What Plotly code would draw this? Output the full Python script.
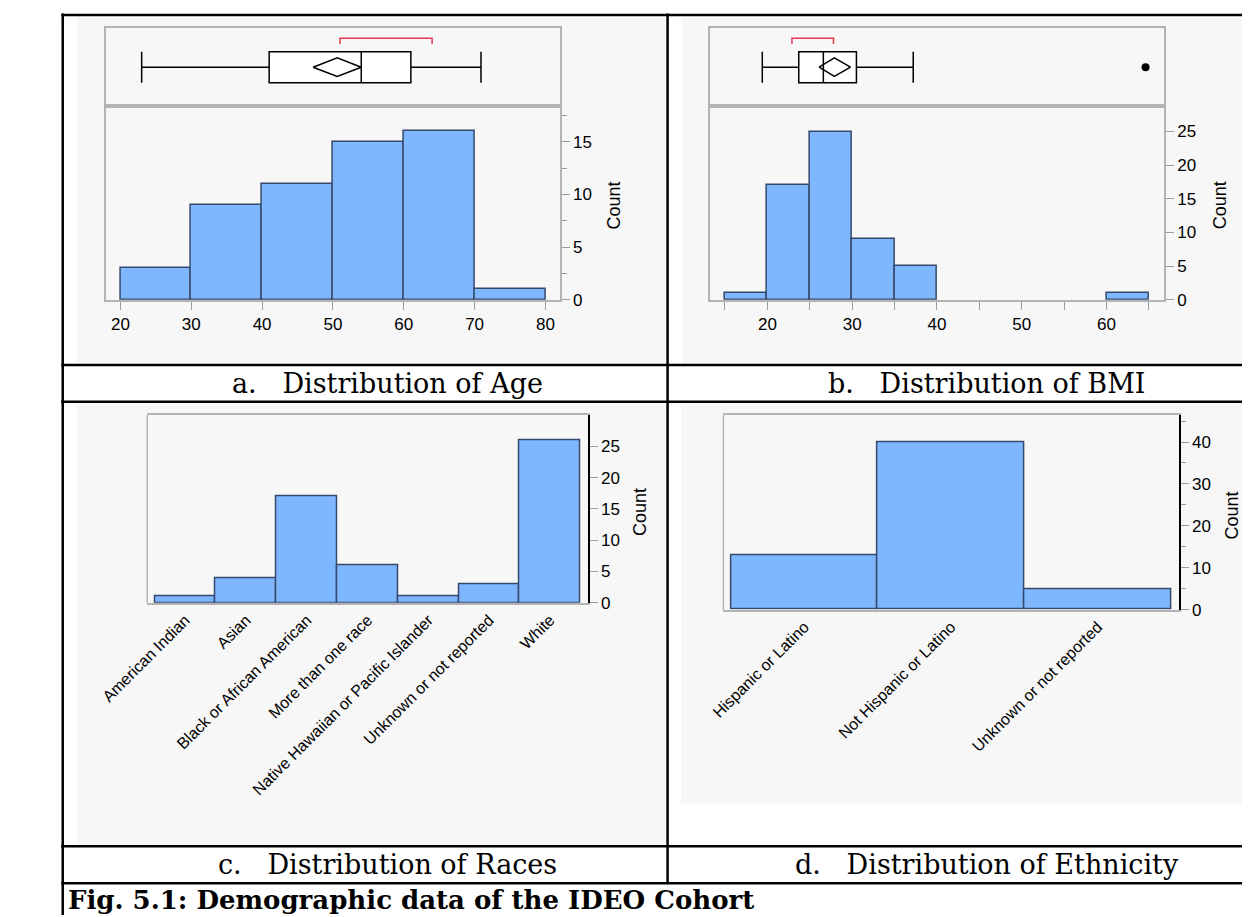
import plotly.graph_objects as go

W, H = 1250, 917

# ---------------- data ----------------
age_bin_edges = [20, 30, 40, 50, 60, 70, 80]
age_counts = [3, 9, 11, 15, 16, 1]
age_quartiles = [23.0, 41.0, 54.0, 61.0, 70.9]      # whisker lo, q1, median, q3, whisker hi
age_mean_ci = [47.2, 50.6, 54.0]                    # ci lo, mean, ci hi
age_shortest_half = [51.0, 64.0]
age_count_ticks = [0, 5, 10, 15]

bmi_bin_left = [15, 20, 25, 30, 35, 60]
bmi_bin_width = 5
bmi_counts = [1, 17, 25, 9, 5, 1]
bmi_quartiles = [19.4, 23.7, 26.6, 30.5, 37.2]
bmi_mean_ci = [26.1, 27.9, 29.8]
bmi_shortest_half = [22.9, 27.8]
bmi_outliers = [64.6]
bmi_ticks = [20, 30, 40, 50, 60]
bmi_count_ticks = [0, 5, 10, 15, 20, 25]

race_categories = ["American Indian", "Asian", "Black or African American",
                   "More than one race", "Native Hawaiian or Pacific Islander",
                   "Unknown or not reported", "White"]
race_counts = [1, 4, 17, 6, 1, 3, 26]
race_count_ticks = [0, 5, 10, 15, 20, 25]

ethnicity_categories = ["Hispanic or Latino", "Not Hispanic or Latino",
                        "Unknown or not reported"]
ethnicity_counts = [13, 40, 5]
ethnicity_count_ticks = [0, 10, 20, 30, 40]

captions = ["a.   Distribution of Age", "b.   Distribution of BMI",
            "c.   Distribution of Races", "d.   Distribution of Ethnicity"]
fig_title = "Fig. 5.1: Demographic data of the IDEO Cohort"

# ---------------- styles ----------------
BAR_FILL = "#7eb7fd"
BAR_EDGE = "#34496b"
FRAME = "#b3b3b3"
TICKC = "#9a9a9a"
SANS = "Liberation Sans, Arial, sans-serif"
SERIF = "DejaVu Serif, Georgia, serif"
PANEL_BG = "#f7f7f7"


def dx(a, b):
    return [a / W, b / W]


def dy(top, bottom):
    return [1 - bottom / H, 1 - top / H]


fig = go.Figure()

# ---------- panel a ----------
age_centers = [(a + b) / 2 for a, b in zip(age_bin_edges[:-1], age_bin_edges[1:])]
age_widths = [b - a for a, b in zip(age_bin_edges[:-1], age_bin_edges[1:])]
fig.add_trace(go.Bar(x=age_centers, y=age_counts, width=age_widths,
                     marker=dict(color=BAR_FILL, line=dict(color=BAR_EDGE, width=1.5)),
                     xaxis="x2", yaxis="y2"))
fig.add_trace(go.Box(y=[0.5], lowerfence=[age_quartiles[0]], q1=[age_quartiles[1]],
                     median=[age_quartiles[2]], q3=[age_quartiles[3]],
                     upperfence=[age_quartiles[4]], orientation="h", width=0.4,
                     whiskerwidth=1, fillcolor="white", boxpoints=False,
                     line=dict(color="black", width=1.5), xaxis="x", yaxis="y"))
dh = 0.12
fig.add_trace(go.Scatter(x=[age_mean_ci[0], age_mean_ci[1], age_mean_ci[2], age_mean_ci[1], age_mean_ci[0]],
                         y=[0.5, 0.5 + dh, 0.5, 0.5 - dh, 0.5], mode="lines",
                         line=dict(color="black", width=1.5), xaxis="x", yaxis="y"))
fig.add_trace(go.Scatter(x=[age_shortest_half[0], age_shortest_half[0], age_shortest_half[1], age_shortest_half[1]],
                         y=[0.80, 0.875, 0.875, 0.80], mode="lines",
                         line=dict(color="#e8384f", width=1.5), xaxis="x", yaxis="y"))

# ---------- panel b ----------
bmi_centers = [l + bmi_bin_width / 2 for l in bmi_bin_left]
fig.add_trace(go.Bar(x=bmi_centers, y=bmi_counts, width=[bmi_bin_width] * len(bmi_counts),
                     marker=dict(color=BAR_FILL, line=dict(color=BAR_EDGE, width=1.5)),
                     xaxis="x4", yaxis="y4"))
fig.add_trace(go.Box(y=[0.5], lowerfence=[bmi_quartiles[0]], q1=[bmi_quartiles[1]],
                     median=[bmi_quartiles[2]], q3=[bmi_quartiles[3]],
                     upperfence=[bmi_quartiles[4]], orientation="h", width=0.4,
                     whiskerwidth=1, fillcolor="white", boxpoints=False,
                     line=dict(color="black", width=1.5), xaxis="x3", yaxis="y3"))
fig.add_trace(go.Scatter(x=[bmi_mean_ci[0], bmi_mean_ci[1], bmi_mean_ci[2], bmi_mean_ci[1], bmi_mean_ci[0]],
                         y=[0.5, 0.5 + dh, 0.5, 0.5 - dh, 0.5], mode="lines",
                         line=dict(color="black", width=1.5), xaxis="x3", yaxis="y3"))
fig.add_trace(go.Scatter(x=[bmi_shortest_half[0], bmi_shortest_half[0], bmi_shortest_half[1], bmi_shortest_half[1]],
                         y=[0.80, 0.875, 0.875, 0.80], mode="lines",
                         line=dict(color="#e8384f", width=1.5), xaxis="x3", yaxis="y3"))
fig.add_trace(go.Scatter(x=bmi_outliers, y=[0.5] * len(bmi_outliers), mode="markers",
                         marker=dict(color="black", size=8), xaxis="x3", yaxis="y3"))

# ---------- panel c ----------
fig.add_trace(go.Bar(x=race_categories, y=race_counts, width=1,
                     marker=dict(color=BAR_FILL, line=dict(color=BAR_EDGE, width=1.5)),
                     xaxis="x5", yaxis="y5"))

# ---------- panel d ----------
fig.add_trace(go.Bar(x=ethnicity_categories, y=ethnicity_counts, width=1,
                     marker=dict(color=BAR_FILL, line=dict(color=BAR_EDGE, width=1.5)),
                     xaxis="x6", yaxis="y6"))

tickfont = dict(family=SANS, size=17, color="black")
catfont = dict(family=SANS, size=16, color="black")

box_x_common = dict(showticklabels=False, ticks="", showline=True, linecolor=FRAME,
                    linewidth=1.5, mirror=True, showgrid=False, zeroline=False)
box_y_common = dict(range=[0, 1], showticklabels=False, ticks="", showline=True,
                    linecolor=FRAME, linewidth=1.5, mirror=True, showgrid=False,
                    zeroline=False)
hist_x_common = dict(showline=True, linecolor=FRAME, linewidth=1.5, mirror=True,
                     ticks="outside", ticklen=8, tickcolor=TICKC, tickwidth=1,
                     showgrid=False, zeroline=False, tickfont=tickfont)
hist_y_common = dict(side="right", showline=True, linecolor=FRAME, linewidth=1.5,
                     mirror=True, ticks="outside", ticklen=8, tickcolor=TICKC,
                     tickwidth=1, showgrid=False, zeroline=False, tickfont=tickfont)
cat_x_common = dict(type="category", tickangle=-45, ticks="", showline=True,
                    linecolor=FRAME, linewidth=1.5, mirror=True, showgrid=False,
                    zeroline=False, tickfont=catfont)
cat_y_common = dict(side="right", showline=True, linecolor="black", linewidth=1.5,
                    mirror=False, ticks="outside", ticklen=8, tickcolor=TICKC,
                    showgrid=False, zeroline=False, tickfont=tickfont, tickmode="array")

a_x = dx(51.8, 524.1)
b_x = dx(680, 1152.3)
age_range = [17.94, 82.05]
bmi_range = [13.22, 66.78]

fig.update_layout(
    xaxis=dict(domain=a_x, range=age_range, anchor="y", **box_x_common),
    yaxis=dict(domain=dy(20.7, 99), anchor="x", **box_y_common),
    xaxis2=dict(domain=a_x, range=age_range, anchor="y2", tickmode="array",
                tickvals=age_bin_edges, **hist_x_common),
    yaxis2=dict(domain=dy(99, 295), range=[0, 18.4], anchor="x2", tickmode="array",
                tickvals=age_count_ticks,
                minor=dict(ticks="outside", dtick=2.5, tick0=0, ticklen=5, tickcolor=TICKC),
                **hist_y_common),
    xaxis3=dict(domain=b_x, range=bmi_range, anchor="y3", **box_x_common),
    yaxis3=dict(domain=dy(20.7, 99), anchor="x3", **box_y_common),
    xaxis4=dict(domain=b_x, range=bmi_range, anchor="y4", tickmode="array",
                tickvals=bmi_ticks,
                minor=dict(ticks="outside", dtick=5, tick0=0, ticklen=8, tickcolor=TICKC),
                **hist_x_common),
    yaxis4=dict(domain=dy(99, 295), range=[0, 28.8], anchor="x4", tickmode="array",
                tickvals=bmi_count_ticks, **hist_y_common),
    xaxis5=dict(domain=dx(94.9, 553.2), range=[-0.625, 6.625], anchor="y5",
                **cat_x_common),
    yaxis5=dict(domain=dy(411.7, 601.3), range=[0, 30], anchor="x5",
                tickvals=race_count_ticks, **cat_y_common),
    xaxis6=dict(domain=dx(694, 1167.8), range=[-0.552, 2.554], anchor="y6",
                **cat_x_common),
    yaxis6=dict(domain=dy(411.7, 608.3), range=[0, 46.4], anchor="x6",
                tickvals=ethnicity_count_ticks,
                minor=dict(ticks="outside", dtick=5, tick0=0, ticklen=5, tickcolor=TICKC),
                **cat_y_common),
)

shapes = []
# grey panel backgrounds
for x0, y0, x1, y1 in [(22, 9, 634, 359.5), (651, 9, 1250, 359.5),
                       (22, 400, 634, 846), (650, 400, 1250, 804)]:
    shapes.append(dict(type="rect", xref="paper", yref="paper", x0=x0 / W, x1=x1 / W,
                       y0=1 - y1 / H, y1=1 - y0 / H, fillcolor=PANEL_BG,
                       line=dict(width=0), layer="below"))
# grey left edges of the categorical frames
for ax in ["x5", "x6"]:
    yax = "y" + ax[1:]
    shapes.append(dict(type="line", xref=ax + " domain", yref=yax + " domain",
                       x0=0, x1=0, y0=0, y1=1, line=dict(color=FRAME, width=1.5)))
# table borders
BL = dict(color="black", width=2.5)
for yy in [7, 361, 398, 847.5, 885]:
    shapes.append(dict(type="line", xref="paper", yref="paper", x0=5.5 / W, x1=1,
                       y0=1 - yy / H, y1=1 - yy / H, line=BL))
shapes.append(dict(type="line", xref="paper", yref="paper", x0=7 / W, x1=7 / W,
                   y0=0, y1=1 - 5.5 / H, line=BL))
shapes.append(dict(type="line", xref="paper", yref="paper", x0=636 / W, x1=636 / W,
                   y0=1 - 885 / H, y1=1 - 5.5 / H, line=BL))

annotations = []
for xc, yc in [(580, 200), (1210, 200), (608, 510), (1223, 513)]:
    annotations.append(dict(text="Count", x=xc / W, y=1 - yc / H, xref="paper",
                            yref="paper", showarrow=False, textangle=-90,
                            font=dict(family=SANS, size=18, color="black"),
                            xanchor="center", yanchor="middle"))
for txt, xc, yc in zip(captions, [345, 968, 345, 968], [380, 380, 866, 866]):
    annotations.append(dict(text=txt, x=xc / W, y=1 - yc / H, xref="paper",
                            yref="paper", showarrow=False,
                            font=dict(family=SERIF, size=27, color="black"),
                            xanchor="center", yanchor="middle"))
annotations.append(dict(text=fig_title, x=10 / W, y=1 - 902 / H, xref="paper",
                        yref="paper", showarrow=False, xanchor="left", yanchor="middle",
                        font=dict(family=SERIF, size=26, color="black", weight="bold")))

fig.update_layout(width=W, height=H, margin=dict(l=0, r=0, t=0, b=0),
                  paper_bgcolor="white", plot_bgcolor="white", showlegend=False,
                  bargap=0, shapes=shapes, annotations=annotations)

fig.write_html("out.html", config={"displayModeBar": False})
